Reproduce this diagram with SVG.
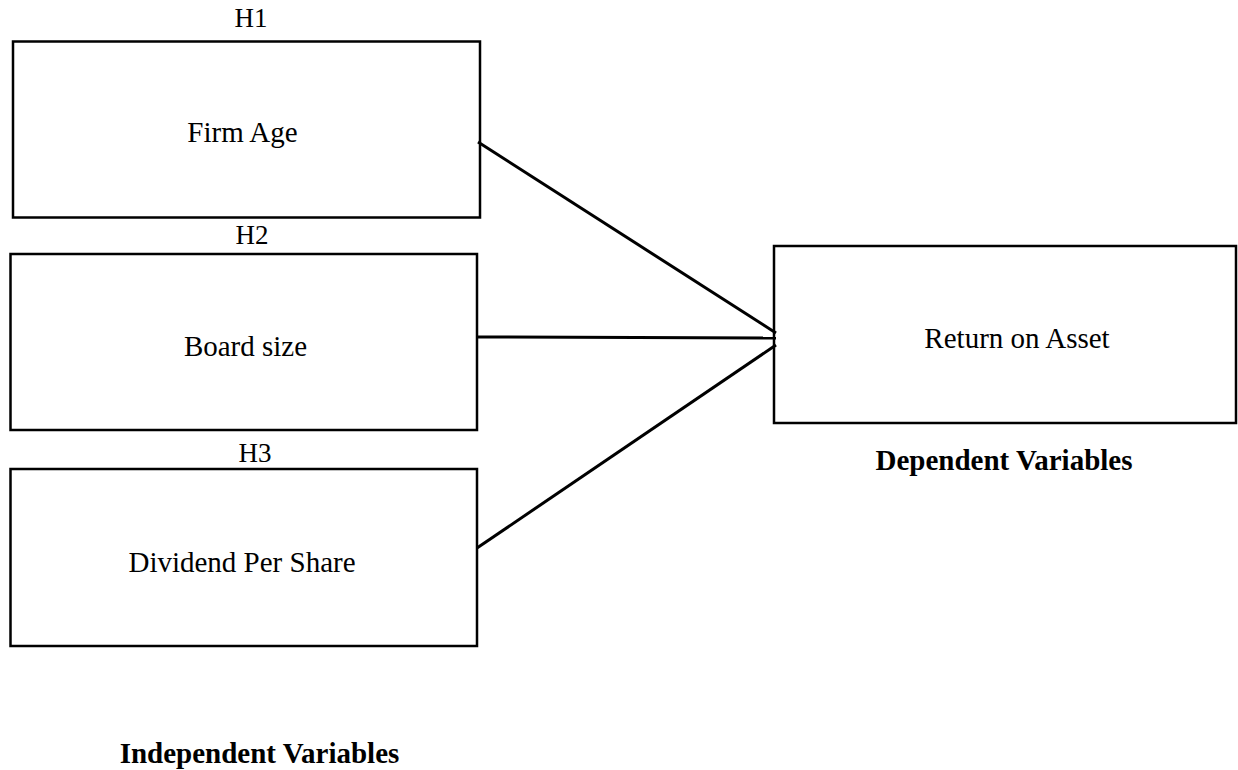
<svg xmlns="http://www.w3.org/2000/svg" width="1238" height="770" viewBox="0 0 1238 770">
<style>
.box{fill:#fff;stroke:#000;stroke-width:2.5}
.t{font-family:"Liberation Serif","Times New Roman",serif;font-size:29px;fill:#000;text-anchor:middle}
.h{font-family:"Liberation Serif","Times New Roman",serif;font-size:27px;fill:#000;text-anchor:middle}
.b{font-family:"Liberation Serif","Times New Roman",serif;font-size:29px;font-weight:bold;fill:#000;text-anchor:middle}
.c{stroke:#000;stroke-width:3;fill:none}
</style>
<rect width="1238" height="770" fill="#fff"/>
<g id="firm-age">
<text class="h" x="251" y="27">H1</text>
<rect class="box" x="13" y="41.5" width="467" height="176"/>
<text class="t" x="242.5" y="142">Firm Age</text>
</g>
<g id="board-size">
<text class="h" x="252" y="244">H2</text>
<rect class="box" x="10.5" y="254" width="466.5" height="176"/>
<text class="t" x="245.5" y="356">Board size</text>
</g>
<g id="dividend-per-share">
<text class="h" x="255" y="462">H3</text>
<rect class="box" x="10.5" y="469" width="466.5" height="177"/>
<text class="t" x="242" y="572">Dividend Per Share</text>
</g>
<g id="return-on-asset">
<rect class="box" x="774" y="246" width="462" height="177"/>
<text class="t" x="1017" y="348">Return on Asset</text>
</g>
<g id="dependent-label">
<text class="b" x="1004" y="470">Dependent Variables</text>
</g>
<g id="independent-label">
<text class="b" x="259.5" y="763">Independent Variables</text>
</g>
<g id="connectors">
<line class="c" x1="478" y1="142" x2="776" y2="333"/>
<line class="c" x1="477" y1="337" x2="776" y2="338"/>
<line class="c" x1="776" y1="345" x2="477" y2="548"/>
</g>
</svg>
